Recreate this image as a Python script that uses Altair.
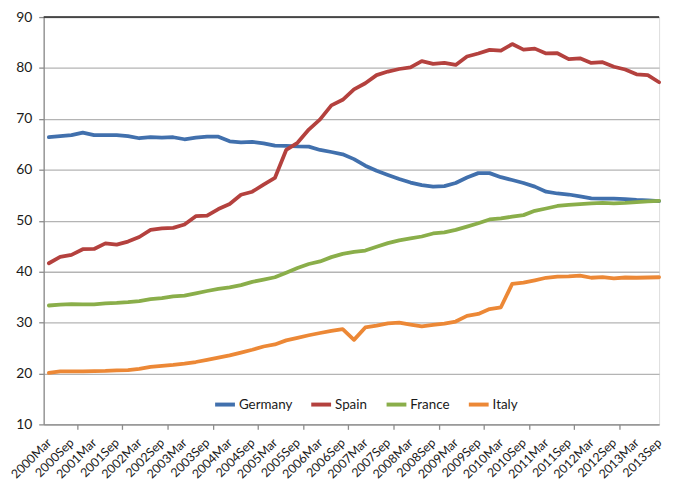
import json
import altair as alt
import pandas as pd

periods = [f"{y}{m}" for y in range(2000, 2014) for m in ("Mar", "Jun", "Sep", "Dec")][:55]

germany = [66.4, 66.6, 66.8, 67.3, 66.8, 66.8, 66.8, 66.6, 66.2, 66.4,
           66.3, 66.4, 66.0, 66.3, 66.5, 66.5, 65.6, 65.4, 65.5, 65.2,
           64.75, 64.7, 64.6, 64.55, 63.9, 63.5, 63.05, 62.1, 60.8, 59.8,
           59.0, 58.2, 57.5, 57.0, 56.7, 56.8, 57.4, 58.5, 59.35, 59.35,
           58.55, 58.0, 57.4, 56.7, 55.7, 55.35, 55.15, 54.8, 54.4, 54.35,
           54.35, 54.25, 54.1, 54.0, 53.85]
spain = [41.65, 42.9, 43.3, 44.4, 44.45, 45.55, 45.3, 45.9, 46.8, 48.2,
         48.5, 48.6, 49.25, 50.9, 51.0, 52.3, 53.3, 55.1, 55.7, 57.1,
         58.4, 63.9, 65.3, 67.9, 69.9, 72.65, 73.75, 75.8, 77.0, 78.6,
         79.3, 79.8, 80.1, 81.35, 80.8, 81.0, 80.6, 82.25, 82.85, 83.55,
         83.4, 84.7, 83.6, 83.8, 82.85, 82.9, 81.75, 81.9, 81.0, 81.15,
         80.25, 79.7, 78.75, 78.6, 77.2]
france = [33.35, 33.5, 33.6, 33.55, 33.55, 33.75, 33.85, 34.0, 34.2, 34.6,
          34.8, 35.15, 35.3, 35.75, 36.2, 36.6, 36.9, 37.35, 38.0, 38.45,
          38.9, 39.8, 40.7, 41.5, 42.0, 42.85, 43.5, 43.9, 44.15, 44.9,
          45.6, 46.15, 46.55, 46.9, 47.5, 47.7, 48.2, 48.85, 49.5, 50.25,
          50.45, 50.8, 51.1, 51.95, 52.4, 52.9, 53.1, 53.25, 53.4, 53.5,
          53.4, 53.5, 53.65, 53.8, 53.9]
italy = [20.1, 20.4, 20.4, 20.4, 20.45, 20.5, 20.6, 20.65, 20.9, 21.3,
         21.5, 21.7, 21.95, 22.25, 22.65, 23.1, 23.55, 24.1, 24.65, 25.3,
         25.7, 26.5, 27.0, 27.5, 27.95, 28.35, 28.7, 26.6, 29.05, 29.4,
         29.85, 30.0, 29.6, 29.25, 29.55, 29.8, 30.2, 31.3, 31.7, 32.65,
         33.0, 37.6, 37.85, 38.3, 38.8, 39.0, 39.05, 39.2, 38.8, 38.9,
         38.7, 38.85, 38.8, 38.85, 38.9]

countries = ["Germany", "Spain", "France", "Italy"]
colors = ["#4170AD", "#B4413E", "#8AAE4A", "#EC8836"]
y_ticks = list(range(10, 91, 10))
top_line = [90]

rows = []
for name, vals in zip(countries, [germany, spain, france, italy]):
    for i, v in enumerate(vals):
        rows.append({"idx": i, "period": periods[i], "country": name, "value": v})
df = pd.DataFrame(rows)

label_idx = list(range(0, len(periods), 2))
tick_idx = [i + 2.5 for i in range(0, 52, 4)]
x_values = sorted(label_idx + tick_idx)
label_expr = "datum.value % 1 == 0 ? " + json.dumps(periods) + "[datum.value] : ''"

FONT = "Lato"

x_axis = alt.Axis(
    values=x_values,
    labelExpr=label_expr,
    labelAngle=-45,
    labelAlign="right",
    labelBaseline="middle",
    labelFont=FONT,
    labelFontSize=12.5,
    labelColor="#1a1a1a",
    labelOverlap=False,
    labelPadding=11,
    grid=False,
    domainColor="#8c8c8c",
    domainWidth=1.3,
    tickColor="#8c8c8c",
    tickSize=5,
    tickWidth=1.3,
    tickOpacity={"condition": {"test": "datum.value % 1 != 0", "value": 1}, "value": 0},
    title=None,
)

y_axis = alt.Axis(
    values=y_ticks,
    labelFont=FONT,
    labelFontSize=14,
    labelColor="#1a1a1a",
    labelPadding=7,
    grid=True,
    gridColor="#b4b4b4",
    gridWidth=1.3,
    domainColor="#8c8c8c",
    domainWidth=1.3,
    tickColor="#8c8c8c",
    tickSize=5,
    tickWidth=1.3,
    title=None,
)

lines = alt.Chart(df).mark_line(strokeWidth=3.8, strokeJoin="round", strokeCap="round").encode(
    x=alt.X("idx:Q", scale=alt.Scale(domain=[-0.46, 54], nice=False, zero=False), axis=x_axis),
    y=alt.Y("value:Q", scale=alt.Scale(domain=[10, 90], nice=False, zero=False), axis=y_axis),
    color=alt.Color(
        "country:N",
        scale=alt.Scale(domain=countries, range=colors),
        sort=countries,
        legend=alt.Legend(
            title=None,
            orient="none",
            legendX=171,
            legendY=379,
            direction="horizontal",
            symbolType="stroke",
            symbolSize=400,
            symbolStrokeWidth=4,
            labelFont=FONT,
            labelFontSize=13.5,
            labelColor="#1a1a1a",
            labelOffset=2,
            columnPadding=11,
            padding=0,
        ),
    ),
    order=alt.Order("idx:Q"),
)

top_rule = alt.Chart(pd.DataFrame({"v": top_line})).mark_rule(color="#222222", strokeWidth=1.5).encode(
    y=alt.Y("v:Q")
)

chart = alt.layer(lines, top_rule).properties(
    width=621,
    height=411,
    autosize=alt.AutoSizeParams(type="none"),
    padding={"left": 36, "top": 7, "right": 11, "bottom": 58},
).configure_view(stroke=None).configure(background="white")

chart.save("out.html", embed_options={"renderer": "svg", "actions": False})
